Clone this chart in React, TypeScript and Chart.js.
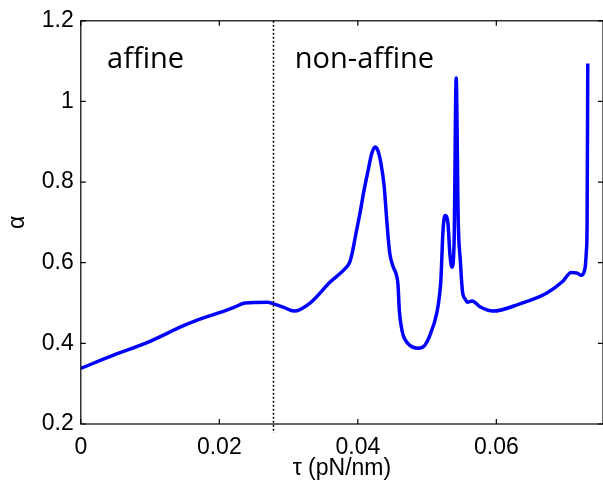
import React, { useEffect, useRef } from "react";
import { Chart, registerables } from "chart.js";

Chart.register(...registerables);

const tau: number[] = [
  0, 0.0049, 0.0093, 0.015, 0.0172, 0.02, 0.0222, 0.0237, 0.027, 0.0276,
  0.0292, 0.0308, 0.0331, 0.036, 0.0382, 0.0388, 0.0392, 0.0397, 0.0403, 0.0409,
  0.0415, 0.042, 0.0425, 0.0429, 0.0433, 0.0438, 0.0442, 0.0446, 0.0451, 0.0456,
  0.0458, 0.046, 0.0464, 0.0468, 0.0475, 0.0487, 0.0496, 0.0504, 0.0514, 0.0518,
  0.052, 0.0523, 0.0526, 0.053, 0.0533, 0.0536, 0.0539, 0.0542, 0.0545, 0.0548,
  0.0551, 0.0555, 0.0558, 0.0565, 0.0577, 0.0595, 0.0634, 0.0673, 0.0696, 0.0708,
  0.0717, 0.0722, 0.0728, 0.073, 0.0731, 0.0732,
];
const alpha: number[] = [
  0.338, 0.372, 0.4, 0.445, 0.46, 0.476, 0.49, 0.5, 0.502, 0.499,
  0.49, 0.48, 0.5, 0.552, 0.586, 0.6, 0.625, 0.67, 0.722, 0.78,
  0.83, 0.87, 0.887, 0.878, 0.85, 0.79, 0.7, 0.625, 0.59, 0.568,
  0.545, 0.48, 0.43, 0.41, 0.395, 0.388, 0.394, 0.42, 0.475, 0.52,
  0.56, 0.68, 0.717, 0.7, 0.62, 0.589, 0.65, 1.058, 0.7, 0.606,
  0.53, 0.51, 0.502, 0.505, 0.49, 0.48, 0.498, 0.525, 0.554, 0.576,
  0.574, 0.569, 0.586, 0.629, 0.69, 1.094,
];
const xTicks: number[] = [0, 0.02, 0.04, 0.06];
const yTicks: number[] = [0.2, 0.4, 0.6, 0.8, 1, 1.2];
const xMin = 0;
const xMax = 0.0754;
const yMin = 0.2;
const yMax = 1.2;
const boundaryTau = 0.0277;
const regionLabels: string[] = ["affine", "non-affine"];
const regionLabelTau: number[] = [0.0038, 0.0309];
const regionLabelAlpha = 1.084;

const boxPlugin = {
  id: "boxPlugin",
  afterDraw(chart: any) {
    const { ctx, chartArea } = chart;
    const xs = chart.scales.x;
    const ys = chart.scales.y;
    const { left, right, top, bottom } = chartArea;
    ctx.save();
    ctx.strokeStyle = "#000";
    ctx.lineWidth = 1.2;
    ctx.strokeRect(left, top, right - left, bottom - top);
    const tl = 5;
    ctx.beginPath();
    xTicks.forEach((v) => {
      const px = xs.getPixelForValue(v);
      ctx.moveTo(px, bottom);
      ctx.lineTo(px, bottom - tl);
      ctx.moveTo(px, top);
      ctx.lineTo(px, top + tl);
    });
    yTicks.forEach((v) => {
      const py = ys.getPixelForValue(v);
      ctx.moveTo(left, py);
      ctx.lineTo(left + tl, py);
      ctx.moveTo(right, py);
      ctx.lineTo(right - tl, py);
    });
    ctx.stroke();
    const bx = Math.round(xs.getPixelForValue(boundaryTau)) + 0.5;
    ctx.beginPath();
    ctx.setLineDash([2, 2]);
    ctx.lineWidth = 1.5;
    ctx.moveTo(bx, top);
    ctx.lineTo(bx, bottom + 9);
    ctx.stroke();
    ctx.setLineDash([]);
    ctx.fillStyle = "#000";
    ctx.font = '29px "Open Sans"';
    ctx.textAlign = "left";
    ctx.textBaseline = "alphabetic";
    regionLabels.forEach((t, i) => {
      ctx.fillText(
        t,
        xs.getPixelForValue(regionLabelTau[i]),
        ys.getPixelForValue(regionLabelAlpha)
      );
    });
    ctx.restore();
  },
};

export default function App() {
  const ref = useRef<HTMLCanvasElement>(null);
  useEffect(() => {
    if (!ref.current) return;
    const tickFont = { family: '"Liberation Sans", Arial, sans-serif', size: 23 };
    const chart = new Chart(ref.current, {
      type: "line",
      data: {
        datasets: [
          {
            data: tau.map((t, i) => ({ x: t, y: alpha[i] })),
            borderColor: "#0000ff",
            borderWidth: 3.5,
            pointRadius: 0,
            cubicInterpolationMode: "monotone",
            fill: false,
          },
        ],
      },
      options: {
        animation: false,
        responsive: false,
        layout: { padding: { top: 20, right: 0, left: 0, bottom: 0 } },
        plugins: { legend: { display: false }, tooltip: { enabled: false } },
        scales: {
          x: {
            type: "linear",
            min: xMin,
            max: xMax,
            grid: { display: false, drawTicks: false },
            border: { display: false },
            ticks: { color: "#000", font: tickFont, padding: 10, maxRotation: 0 },
            afterBuildTicks: (s: any) => {
              s.ticks = xTicks.map((v) => ({ value: v }));
            },
            afterFit: (s: any) => {
              s.height = 59;
            },
            title: {
              display: true,
              text: "τ (pN/nm)",
              color: "#000",
              font: { ...tickFont, lineHeight: 1.2 },
              padding: { top: 0, bottom: 1 },
            },
          },
          y: {
            type: "linear",
            min: yMin,
            max: yMax,
            grid: { display: false, drawTicks: false },
            border: { display: false },
            ticks: {
              color: "#000",
              font: tickFont,
              padding: 7,
              callback: (v: any) => String(Math.round(Number(v) * 10) / 10),
            },
            afterBuildTicks: (s: any) => {
              s.ticks = yTicks.map((v) => ({ value: v }));
            },
            afterFit: (s: any) => {
              s.width = 80.8;
            },
            title: {
              display: true,
              text: "α",
              color: "#000",
              font: { ...tickFont, lineHeight: 1.2 },
              padding: { top: 4, bottom: 0 },
            },
          },
        },
      },
      plugins: [boxPlugin],
    });
    return () => chart.destroy();
  }, []);
  return (
    <div style={{ position: "absolute", left: 0, top: 0, width: 603, height: 483, background: "#fff" }}>
      <canvas ref={ref} width={603} height={483} />
    </div>
  );
}
